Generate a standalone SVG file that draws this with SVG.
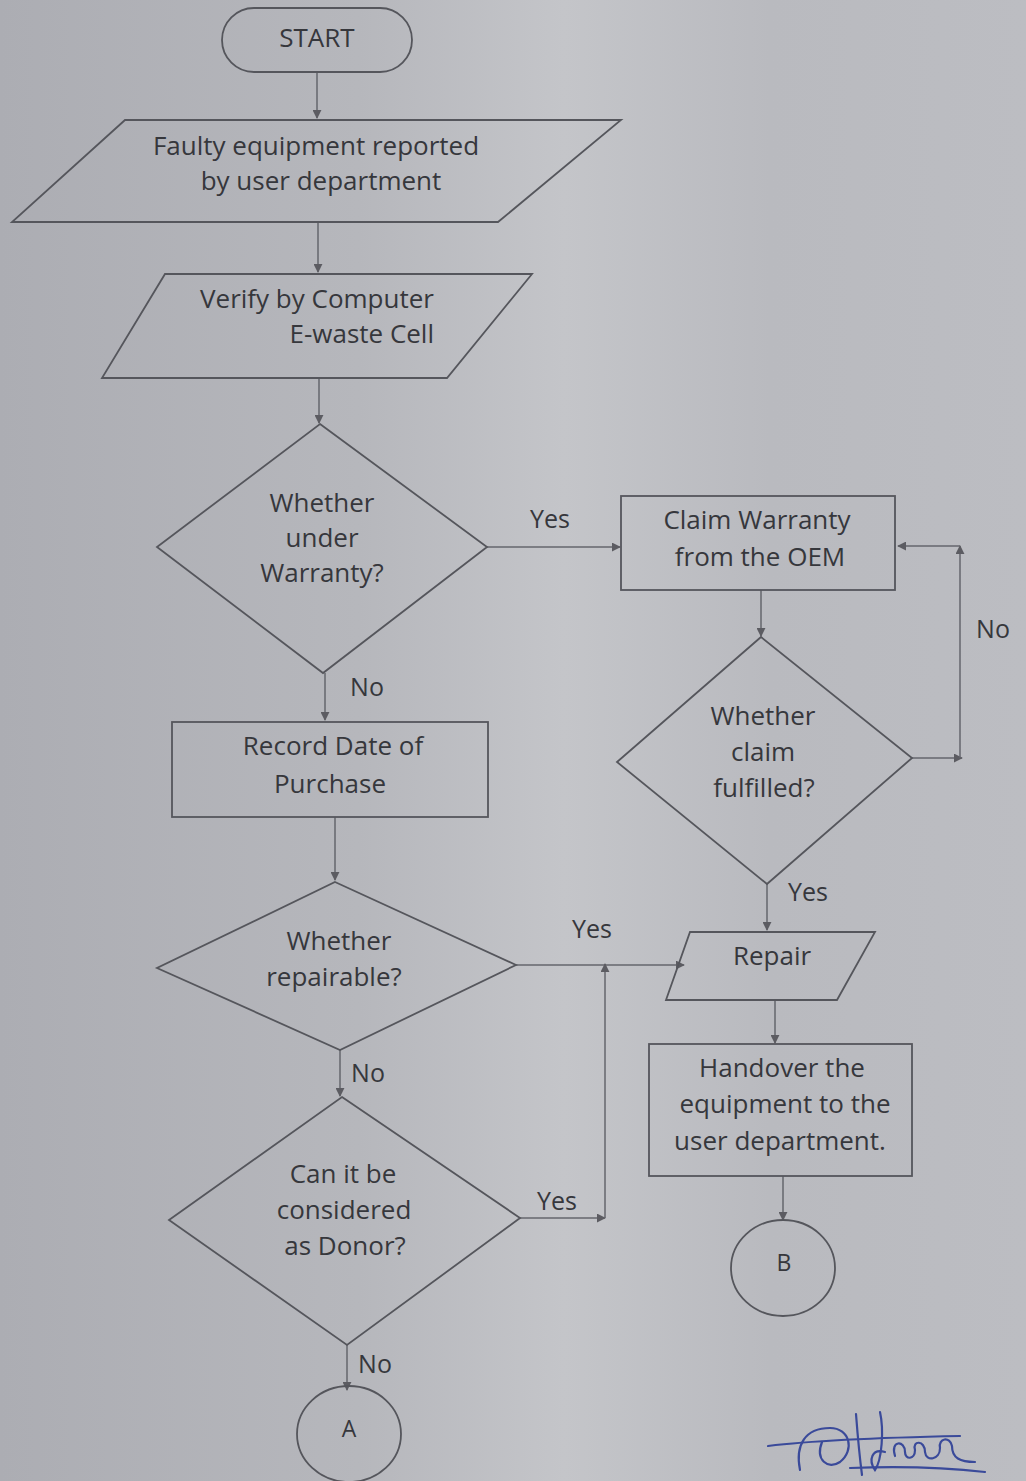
<svg xmlns="http://www.w3.org/2000/svg" width="1026" height="1481" viewBox="0 0 1026 1481">
<defs>
<linearGradient id="bg" x1="0" y1="0" x2="1" y2="0">
<stop offset="0" stop-color="#acadb3"/>
<stop offset="0.35" stop-color="#b6b7bc"/>
<stop offset="0.55" stop-color="#c4c5c9"/>
<stop offset="0.75" stop-color="#b9babf"/>
<stop offset="1" stop-color="#bcbdc2"/>
</linearGradient>
<marker id="ah" viewBox="0 0 10 10" refX="9" refY="5" markerWidth="9" markerHeight="9" markerUnits="userSpaceOnUse" orient="auto">
<path d="M0,0 L10,5 L0,10 z" fill="#5c5c62"/>
</marker>
<style>
.shape{fill:none;stroke:#55565c;stroke-width:1.8}
.conn{fill:none;stroke:#65666c;stroke-width:1.5;marker-end:url(#ah)}
text{font-family:"Open Sans","DejaVu Sans",sans-serif;font-size:26px;fill:#36373c;text-anchor:middle}
.lbl{font-size:25px}
</style>
</defs>
<rect width="1026" height="1481" fill="url(#bg)"/>

<g id="connectors">
<path class="conn" d="M317,72 V118"/>
<path class="conn" d="M318,222 V272"/>
<path class="conn" d="M319,378 V423"/>
<path class="conn" d="M487,547 H620"/>
<text class="lbl" x="550" y="528">Yes</text>
<path class="conn" d="M761,590 V636"/>
<path class="conn" d="M912,758 H962"/>
<path class="conn" d="M960,758 V546"/>
<path class="conn" d="M960,546 H898"/>
<text class="lbl" x="993" y="638">No</text>
<path class="conn" d="M325,673 V720"/>
<text class="lbl" x="367" y="696">No</text>
<path class="conn" d="M335,817 V880"/>
<path class="conn" d="M516,965 H684"/>
<text class="lbl" x="592" y="938">Yes</text>
<path class="conn" d="M520,1218 H605"/>
<path class="conn" d="M605,1218 V964"/>
<text class="lbl" x="557" y="1210">Yes</text>
<path class="conn" d="M767,884 V930"/>
<text class="lbl" x="808" y="901">Yes</text>
<path class="conn" d="M775,1000 V1043"/>
<path class="conn" d="M783,1176 V1220"/>
<path class="conn" d="M340,1050 V1096"/>
<text class="lbl" x="368" y="1082">No</text>
<path class="conn" d="M347,1345 V1390"/>
<text class="lbl" x="375" y="1373">No</text>
</g>

<g id="start">
<rect class="shape" x="222" y="8" width="190" height="64" rx="32"/>
<text x="317" y="47">START</text>
</g>

<g id="reported">
<polygon class="shape" points="125,120 621,120 498,222 12,222"/>
<text x="316" y="155">Faulty equipment reported</text>
<text x="321" y="190">by user department</text>
</g>

<g id="verify">
<polygon class="shape" points="165,274 532,274 447,378 102,378"/>
<text x="317" y="308">Verify by Computer</text>
<text x="434" y="343" style="text-anchor:end">E-waste Cell</text>
</g>

<g id="warranty">
<polygon class="shape" points="320,424 487,547 323,673 157,547"/>
<text x="322" y="512">Whether</text>
<text x="322" y="547">under</text>
<text x="322" y="582">Warranty?</text>
</g>

<g id="claim">
<rect class="shape" x="621" y="496" width="274" height="94"/>
<text x="757" y="529">Claim Warranty</text>
<text x="760" y="566">from the OEM</text>
</g>

<g id="fulfilled">
<polygon class="shape" points="761,637 912,758 767,884 617,762"/>
<text x="763" y="725">Whether</text>
<text x="763" y="761">claim</text>
<text x="764" y="797">fulfilled?</text>
</g>

<g id="record">
<rect class="shape" x="172" y="722" width="316" height="95"/>
<text x="333" y="755">Record Date of</text>
<text x="330" y="793">Purchase</text>
</g>

<g id="repairable">
<polygon class="shape" points="335,882 516,965 340,1050 157,968"/>
<text x="339" y="950">Whether</text>
<text x="334" y="986">repairable?</text>
</g>

<g id="repair">
<polygon class="shape" points="690,932 875,932 837,1000 666,1000"/>
<text x="772" y="965">Repair</text>
</g>

<g id="handover">
<rect class="shape" x="649" y="1044" width="263" height="132"/>
<text x="782" y="1077">Handover the</text>
<text x="785" y="1113">equipment to the</text>
<text x="780" y="1150">user department.</text>
</g>

<g id="connB">
<ellipse class="shape" cx="783" cy="1268" rx="52" ry="48"/>
<text x="784" y="1271" style="font-size:23px">B</text>
</g>

<g id="donor">
<polygon class="shape" points="342,1097 520,1218 347,1345 169,1220"/>
<text x="343" y="1183">Can it be</text>
<text x="344" y="1219">considered</text>
<text x="345" y="1255">as Donor?</text>
</g>

<g id="connA">
<ellipse class="shape" cx="349" cy="1434" rx="52" ry="48"/>
<text x="349" y="1437" style="font-size:23px">A</text>
</g>

<g id="signature" fill="none" stroke="#3a4a9a" stroke-width="2.2" stroke-linecap="round">
<path d="M768,1446 C800,1442 860,1438 960,1436"/>
<path d="M800,1470 C795,1445 805,1428 830,1428 C850,1428 855,1450 840,1462 C828,1470 815,1460 822,1442"/>
<path d="M856,1414 C858,1440 860,1460 862,1475"/>
<path d="M880,1412 C884,1430 882,1460 875,1470 C868,1460 872,1448 885,1452"/>
<path d="M895,1456 C890,1440 905,1440 905,1452 C905,1460 915,1460 915,1450 C912,1440 925,1440 925,1452 C926,1462 940,1460 940,1448 C938,1438 950,1436 952,1446 C952,1458 960,1462 975,1462"/>
<path d="M850,1468 C900,1466 950,1468 985,1472"/>
</g>
</svg>
